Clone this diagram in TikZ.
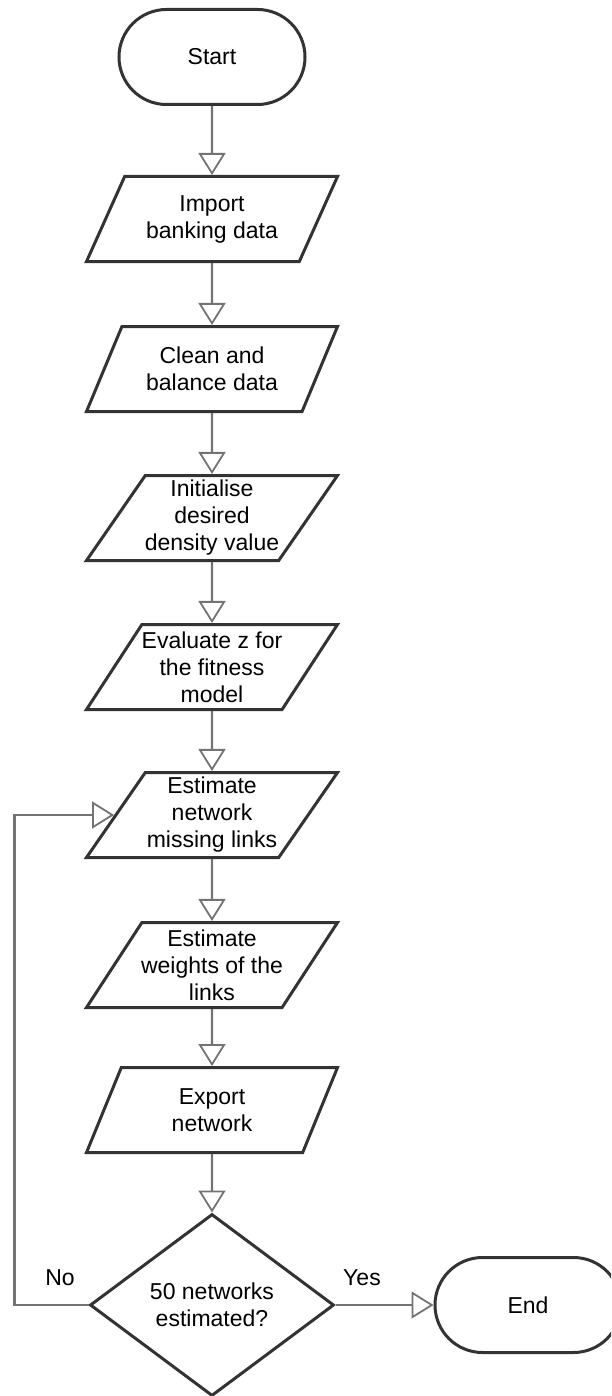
\documentclass[tikz,border=0pt]{standalone}
\usepackage{fontspec}
\setmainfont{Liberation Sans}
\usetikzlibrary{arrows.meta,shapes.geometric,shapes.misc}

\begin{document}
\begin{tikzpicture}[x=0.5pt,y=-0.5pt]
\tikzstyle{every node}=[font=\fontsize{11.5}{13.5}\selectfont, align=center, inner sep=1pt]
\tikzstyle{term}=[draw=black!80, line width=1.5pt, rounded rectangle, minimum width=95pt, minimum height=47.5pt]
\tikzstyle{io}=[draw=black!80, line width=1.5pt, trapezium, trapezium left angle=53.5, trapezium right angle=126.5, trapezium stretches body, inner xsep=-5pt, minimum width=125.5pt, minimum height=42.5pt]
\tikzstyle{test}=[draw=black!80, line width=1.5pt, diamond, minimum width=122pt, minimum height=91pt]
\tikzstyle{flow}=[draw=black!55, line width=1.2pt, -{Triangle[open, width=13.5pt, length=11pt, line width=0.9pt]}]
\clip (0,0) rectangle (611,1396);
\draw (212,57) node (start) [term] {Start};
\draw (212,219) node (imp) [io] {Import\\banking data};
\draw (212,369) node (clean) [io] {Clean and\\balance data};
\draw (212,518) node (init) [io] {Initialise\\desired\\density value};
\draw (212,667) node (evalz) [io] {Evaluate z for\\the fitness\\model};
\draw (212,815) node (est) [io] {Estimate\\network\\missing links};
\draw (212,965) node (wts) [io] {Estimate\\weights of the\\links};
\draw (212,1110) node (exp) [io] {Export\\network};
\draw (212,1305) node (dec) [test] {50 networks\\estimated?};
\draw (528,1305) node (end) [term] {End};
\draw (60,1278) node (lblno) {No};
\draw (362,1278) node (lblyes) {Yes};
\draw[flow] (start) -- (imp);
\draw[flow] (imp) -- (clean);
\draw[flow] (clean) -- (init);
\draw[flow] (init) -- (evalz);
\draw[flow] (evalz) -- (est);
\draw[flow] (est) -- (wts);
\draw[flow] (wts) -- (exp);
\draw[flow] (exp) -- (dec);
\draw[flow] (dec) -- (end);
\draw[flow] (dec.west) -- ++(-74,0) |- (est.west);
\end{tikzpicture}
\end{document}
